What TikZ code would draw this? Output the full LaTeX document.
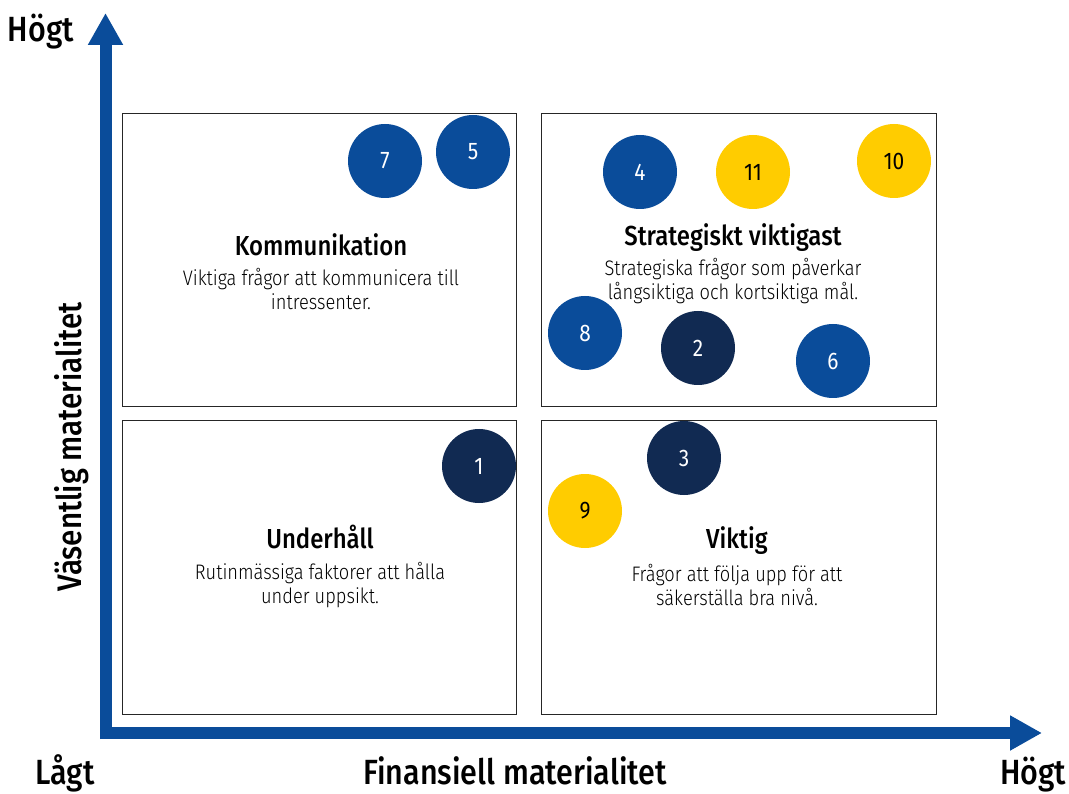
\documentclass[tikz,border=0pt]{standalone}
\usepackage{fontspec}
\setmainfont{Fira Sans Light}[FakeStretch=0.87,BoldFont={Fira Sans Medium},BoldFeatures={FakeStretch=0.87}]
\newfontfamily\numfont{Fira Sans}[FakeStretch=0.87]
\usetikzlibrary{arrows.meta}
\definecolor{cblue}{HTML}{0A4C9A}
\definecolor{cnavy}{HTML}{112A52}
\definecolor{cyellow}{HTML}{FFCC00}
\begin{document}
\begin{tikzpicture}[x=1pt,y=-1pt,
  quad/.style={draw=black!85,line width=1pt,fill=white},
  axis/.style={draw=cblue,line width=12pt,-{Triangle[width=33pt,length=32pt]}},
  dot/.style={circle,minimum size=74pt,inner sep=0pt,font=\numfont\fontsize{24}{24}\selectfont},
  bdot/.style={dot,fill=cblue,text=white},
  ndot/.style={dot,fill=cnavy,text=white},
  ydot/.style={dot,fill=cyellow,text=black},
  ttl/.style={font=\fontsize{27.5}{27.5}\selectfont\bfseries},
  dsc/.style={font=\fontsize{21}{23.5}\selectfont,align=center},
  axlbl/.style={font=\fontsize{35}{35}\selectfont\bfseries}]
\useasboundingbox (0,0) rectangle (1069,794);
% axes
\coordinate (ybot) at (105.5,739);
\coordinate (ytop) at (105.5,13);
\coordinate (xl) at (100,733);
\coordinate (xr) at (1042,733);
\draw[axis] (ybot) -- (ytop);
\draw[axis] (xl) -- (xr);
% quadrants
\draw[quad] (122,114) rectangle (516,407);
\draw[quad] (541,114) rectangle (936,407);
\draw[quad] (122,421) rectangle (516,714);
\draw[quad] (541,421) rectangle (936,714);
% quadrant texts
\node[ttl] (t1) at (321,245) {Kommunikation};
\node[dsc] (d1) at (321,289) {Viktiga frågor att kommunicera till\\intressenter.};
\node[ttl] (t2) at (733,238) {Strategiskt viktigast};
\node[dsc] (d2) at (733,281) {Strategiska frågor som påverkar\\långsiktiga och kortsiktiga mål.};
\node[ttl] (t3) at (320,537) {Underhåll};
\node[dsc] (d3) at (320,585) {Rutinmässiga faktorer att hålla\\under uppsikt.};
\node[ttl] (t4) at (737,541) {Viktig};
\node[dsc] (d4) at (737,585) {Frågor att följa upp för att\\säkerställa bra nivå.};
% circles
\node[bdot] (c7) at (385,161) {7};
\node[bdot] (c5) at (473,152) {5};
\node[bdot] (c4) at (640,172) {4};
\node[ydot] (c11) at (753,172) {11};
\node[ydot] (c10) at (894,161) {10};
\node[bdot] (c8) at (585,333) {8};
\node[ndot] (c2) at (698,348) {2};
\node[bdot] (c6) at (833,361) {6};
\node[ndot] (c1) at (479,466) {1};
\node[ndot] (c3) at (684,458) {3};
\node[ydot] (c9) at (585,511) {9};
% axis labels
\node[axlbl,anchor=base] (hy) at (41,42) {Högt};
\node[axlbl,rotate=90,anchor=base,font=\fontsize{34}{34}\selectfont\bfseries] (vy) at (81,447) {Väsentlig materialitet};
\node[axlbl,anchor=base] (lx) at (65,784) {Lågt};
\node[axlbl,anchor=base] (fx) at (515,784) {Finansiell materialitet};
\node[axlbl,anchor=base] (hx) at (1033,784) {Högt};
\end{tikzpicture}
\end{document}
